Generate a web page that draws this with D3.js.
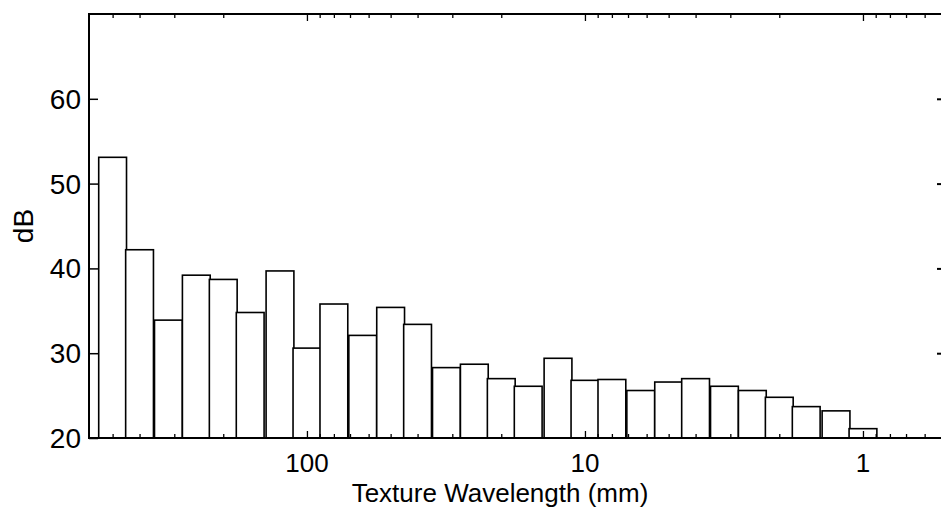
<!DOCTYPE html>
<html>
<head>
<meta charset="utf-8">
<script src="https://cdn.jsdelivr.net/npm/d3@7"></script>
<style>
  body { margin: 0; background: #fff; }
  svg text { font-family: "Liberation Sans", Arial, Helvetica, sans-serif; fill: #000; }
</style>
</head>
<body>
<svg id="chart" width="941" height="518"></svg>
<script>
// one-third octave bands, wavelength in mm (nominal centres)
const bands = [500, 400, 315, 250, 200, 160, 125, 100, 80, 63, 50, 40, 31.5, 25,
  20, 16, 12.5, 10, 8, 6.3, 5, 4, 3.15, 2.5, 2, 1.6, 1.25, 1];
const levels = [53.1, 42.2, 33.9, 39.2, 38.7, 34.8, 39.7, 30.6, 35.8, 32.1, 35.4, 33.4, 28.3, 28.7,
  27.0, 26.1, 29.4, 26.8, 26.9, 25.6, 26.6, 27.0, 26.1, 25.6, 24.8, 23.7, 23.2, 21.1];
const yTicks = [20, 30, 40, 50, 60];
const xLabels = [100, 10, 1];

const margin = { top: 14, right: 0, bottom: 80, left: 89 };
const width = 941, height = 518;
const svg = d3.select('#chart');

const x = d3.scaleLog()
  .domain([608, 0.524])
  .range([margin.left, width - margin.right]);

const y = d3.scaleLinear()
  .domain([20, 70])
  .range([height - margin.bottom, margin.top]);

const halfBand = Math.pow(10, 0.05);

// bars
svg.append('g')
  .selectAll('rect')
  .data(bands)
  .join('rect')
  .attr('x', d => x(d * halfBand))
  .attr('width', d => x(d / halfBand) - x(d * halfBand))
  .attr('y', (d, i) => y(levels[i]))
  .attr('height', (d, i) => y(20) - y(levels[i]))
  .attr('fill', '#fff')
  .attr('stroke', '#000')
  .attr('stroke-width', 1.6);

// frame
const x0 = margin.left, x1 = width - margin.right;
const y0 = margin.top, y1 = height - margin.bottom;
const frame = svg.append('g').attr('stroke', '#000').attr('stroke-width', 2).attr('fill', 'none');
frame.append('line').attr('x1', x0).attr('x2', x0).attr('y1', y0 - 1).attr('y2', y1 + 1);
frame.append('line').attr('x1', x0).attr('x2', x1).attr('y1', y0).attr('y2', y0);
frame.append('line').attr('x1', x0).attr('x2', x1).attr('y1', y1).attr('y2', y1);

// log ticks on bottom and top, pointing inward
const logTicks = x.ticks().filter(t => x(t) > x0 + 2 && x(t) < x1 - 2);
const isMajor = t => Math.abs(Math.log10(t) - Math.round(Math.log10(t))) < 1e-6;

svg.append('g')
  .attr('transform', `translate(0,${y1})`)
  .call(d3.axisTop(x).tickValues(logTicks).tickSize(4).tickFormat(''))
  .call(g => g.select('.domain').remove())
  .call(g => g.selectAll('.tick line').attr('y2', d => isMajor(d) ? -7 : -4).attr('stroke-width', 1.3));

svg.append('g')
  .attr('transform', `translate(0,${y0})`)
  .call(d3.axisBottom(x).tickValues(logTicks).tickSize(4).tickFormat(''))
  .call(g => g.select('.domain').remove())
  .call(g => g.selectAll('.tick line').attr('y2', d => isMajor(d) ? 7 : 4).attr('stroke-width', 1.3));

// x tick labels
svg.append('g')
  .selectAll('text')
  .data(xLabels)
  .join('text')
  .attr('x', d => x(d))
  .attr('y', y1 + 34)
  .attr('text-anchor', 'middle')
  .attr('font-size', 26)
  .text(d => d);

// y axis: ticks inward, labels outside
svg.append('g')
  .attr('transform', `translate(${x0},0)`)
  .call(d3.axisRight(y).tickValues(yTicks).tickSize(9).tickFormat(''))
  .call(g => g.select('.domain').remove())
  .call(g => g.selectAll('.tick line').attr('stroke-width', 1.5));

svg.append('g')
  .selectAll('text')
  .data(yTicks)
  .join('text')
  .attr('x', x0 - 8)
  .attr('y', d => y(d))
  .attr('dy', '0.36em')
  .attr('text-anchor', 'end')
  .attr('font-size', 28)
  .text(d => d);

// right side ticks
svg.append('g')
  .attr('transform', `translate(${x1},0)`)
  .call(d3.axisLeft(y).tickValues(yTicks.slice(1)).tickSize(4).tickFormat(''))
  .call(g => g.select('.domain').remove())
  .call(g => g.selectAll('.tick line').attr('stroke-width', 2));

// axis titles
svg.append('text')
  .attr('x', 500)
  .attr('y', 502)
  .attr('text-anchor', 'middle')
  .attr('font-size', 26)
  .text('Texture Wavelength (mm)');

svg.append('text')
  .attr('transform', `translate(33,${(y0 + y1) / 2}) rotate(-90)`)
  .attr('text-anchor', 'middle')
  .attr('font-size', 28)
  .text('dB');
</script>
</body>
</html>
